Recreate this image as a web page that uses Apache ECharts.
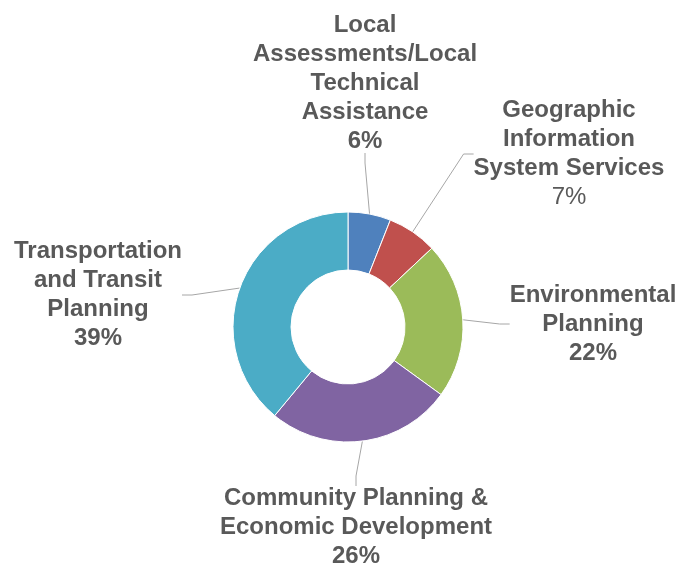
<!DOCTYPE html>
<html>
<head>
<meta charset="utf-8">
<script src="https://cdn.jsdelivr.net/npm/echarts@6/dist/echarts.min.js"></script>
<style>
html,body{margin:0;padding:0;background:#fff;}
#c{width:682px;height:564px;}
</style>
</head>
<body>
<div id="c"></div>
<script>
var categories = [
  'Local\nAssessments/Local\nTechnical\nAssistance',
  'Geographic\nInformation\nSystem Services',
  'Environmental\nPlanning',
  'Community Planning &\nEconomic Development',
  'Transportation\nand Transit\nPlanning'
];
var values = [6, 7, 22, 26, 39];
var colors = ['#4F81BD', '#C0504D', '#9BBB59', '#8064A2', '#4BACC6'];
var labelPos = [[365, 83], [569, 154], [593, 324], [356, 527], [98, 295]];

var chart = echarts.init(document.getElementById('c'));
chart.setOption({
  animation: false,
  series: [{
    type: 'pie',
    center: [348, 327],
    radius: [57, 115],
    startAngle: 90,
    clockwise: true,
    data: categories.map(function (n, i) {
      return {
        name: n, value: values[i],
        itemStyle: { color: colors[i] },
        label: i === 1 ? { formatter: '{b|{b}}\n{n|{d}%}' } : {}
      };
    }),
    itemStyle: { borderColor: '#ffffff', borderWidth: 1 },
    label: {
      show: true,
      position: 'outside',
      overflow: 'none',
      width: 300,
      formatter: '{b|{b}}\n{b|{d}%}',
      rich: {
        b: { fontFamily: 'Liberation Sans, Arial', fontWeight: 'bold', fontSize: 24, lineHeight: 29, color: '#595959', align: 'center' },
        n: { fontFamily: 'Liberation Sans, Arial', fontWeight: 'normal', fontSize: 24, lineHeight: 29, color: '#595959', align: 'center' }
      }
    },
    labelLine: { show: true, length: 10, length2: 10, lineStyle: { color: '#A6A6A6', width: 1 } },
    labelLayout: function (p) {
      var pos = labelPos[p.dataIndex];
      return { x: pos[0], y: pos[1], align: 'center', verticalAlign: 'middle' };
    }
  }]
});
</script>
</body>
</html>
